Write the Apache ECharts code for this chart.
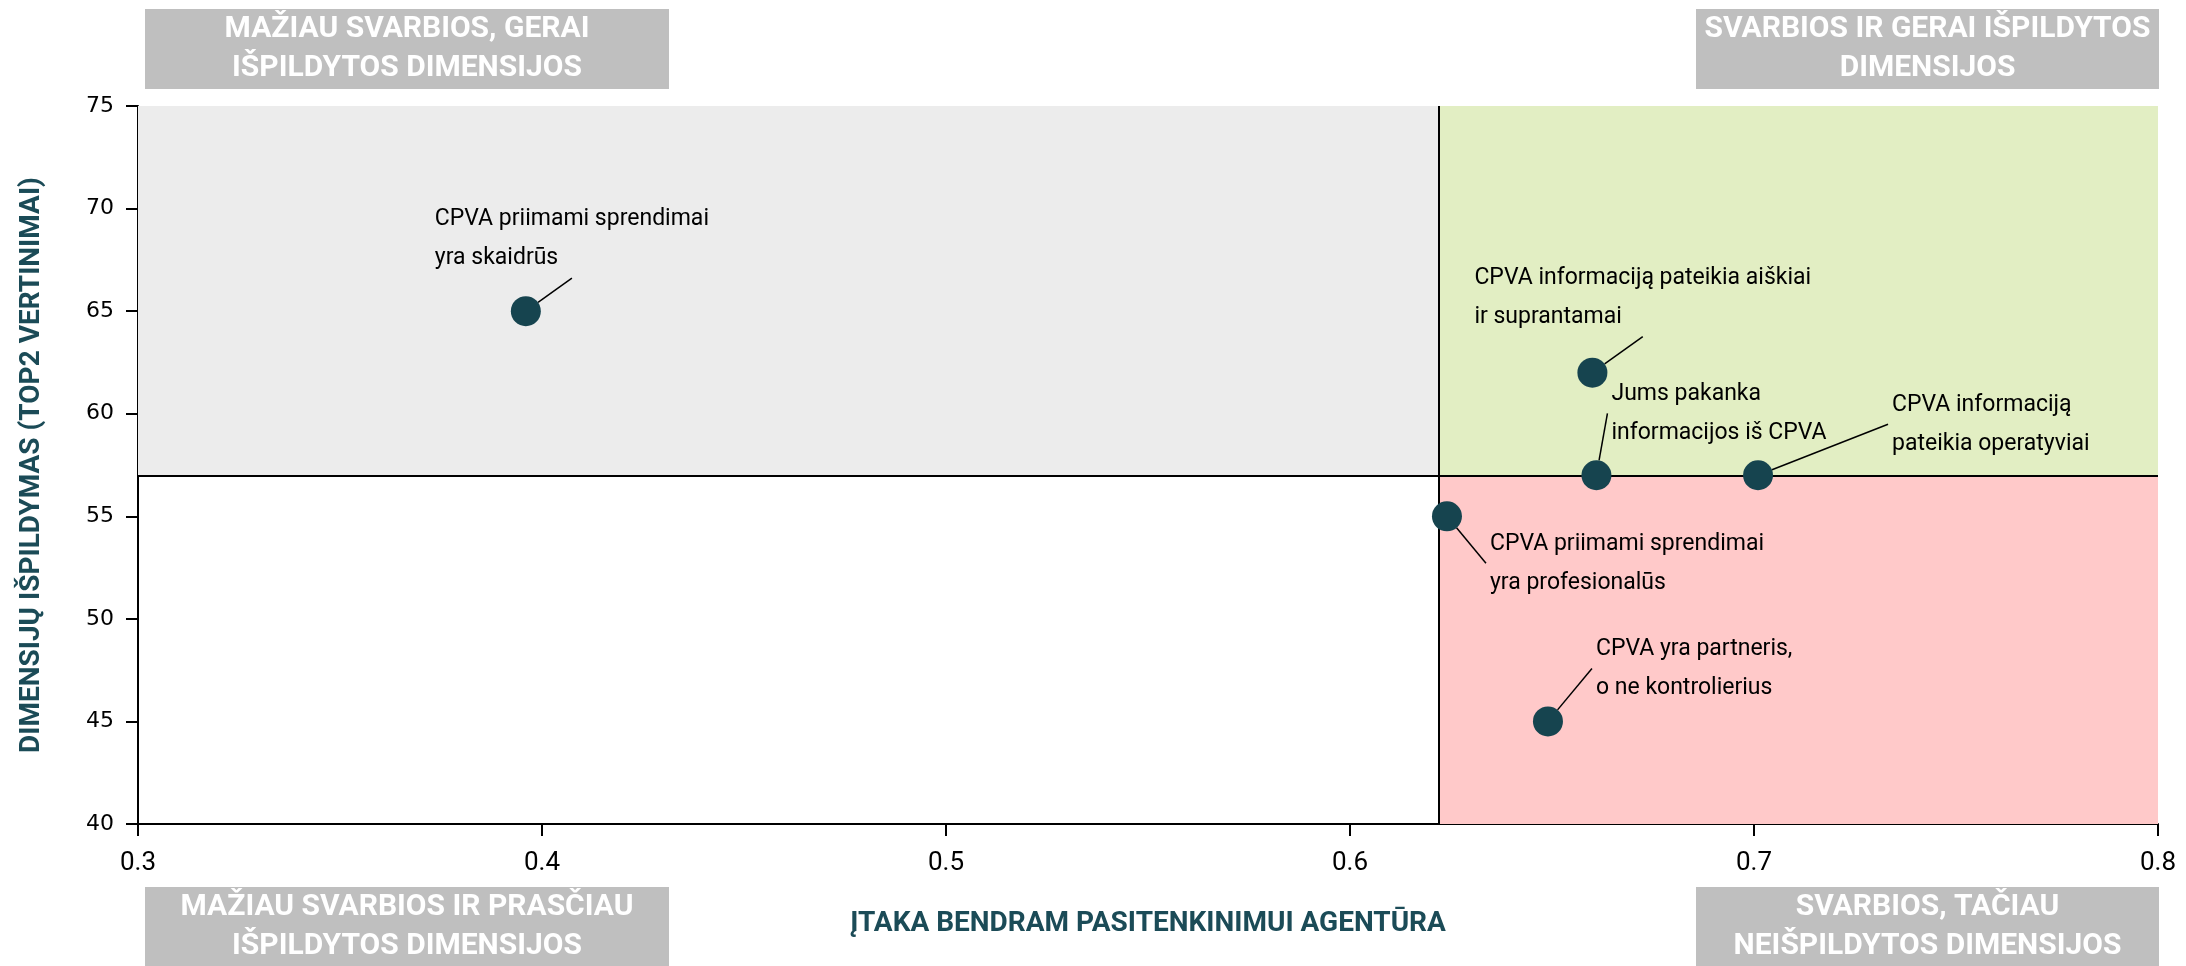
<!DOCTYPE html>
<html lang="lt">
<head>
<meta charset="utf-8">
<title>Dimensijų svarba ir išpildymas</title>
<script src="https://cdn.jsdelivr.net/npm/echarts@6/dist/echarts.min.js"></script>
<style>
  html, body { margin: 0; padding: 0; background: #ffffff; }
  #chart { width: 2186px; height: 966px; }
</style>
</head>
<body>
<div id="chart"></div>
<script>
// duomenys
const names = [
  'CPVA priimami sprendimai\nyra skaidrūs',
  'CPVA informaciją pateikia aiškiai\nir suprantamai',
  'Jums pakanka\ninformacijos iš CPVA',
  'CPVA informaciją\npateikia operatyviai',
  'CPVA priimami sprendimai\nyra profesionalūs',
  'CPVA yra partneris,\no ne kontrolierius'
]
const impact = [0.396, 0.66, 0.661, 0.701, 0.624, 0.649]
const performance = [65, 62, 57, 57, 55, 45]

const xMin = 0.3
const xMax = 0.8
const xStep = 0.1
const yMin = 40
const yMax = 75
const yStep = 5

// kvadrantų ribos
const splitX = 0.622
const splitY = 57

const quadrantTitles = [
  'MAŽIAU SVARBIOS, GERAI\nIŠPILDYTOS DIMENSIJOS',
  'SVARBIOS IR GERAI IŠPILDYTOS\nDIMENSIJOS',
  'MAŽIAU SVARBIOS IR PRASČIAU\nIŠPILDYTOS DIMENSIJOS',
  'SVARBIOS, TAČIAU\nNEIŠPILDYTOS DIMENSIJOS'
]
const xName = 'ĮTAKA BENDRAM PASITENKINIMUI AGENTŪRA'
const yName = 'DIMENSIJŲ IŠPILDYMAS (TOP2 VERTINIMAI)'

// etikečių poslinkiai nuo taško (px)
const labelShift = [
  [-110, -72],
  [-137, -75],
  [-4, -62],
  [115, -51],
  [24, 47],
  [29, -53]
]

const teal = '#1b4b57'
const dotColor = '#16444f'

const chart = echarts.init(document.getElementById('chart'))

const points = impact.map((v, i) => ({
  name: names[i],
  value: [v, performance[i]]
}))

const boxStyle = { fill: '#bfbfbf' }
const boxText = {
  fill: '#ffffff',
  font: 'bold 30px Roboto',
  lineHeight: 39,
  align: 'center',
  verticalAlign: 'middle'
}

const makeBox = (x, y, w, h, text) => ({
  type: 'group',
  left: x,
  top: y,
  children: [
    { type: 'rect', shape: { x: 0, y: 0, width: w, height: h }, style: boxStyle },
    {
      type: 'text',
      x: w / 2,
      y: 40,
      style: Object.assign({ text: text }, boxText)
    }
  ]
})

chart.setOption({
  animation: false,
  textStyle: { fontFamily: 'Roboto' },
  grid: {
    left: 138,
    right: 28,
    top: 106,
    bottom: 142
  },
  xAxis: {
    type: 'value',
    min: xMin,
    max: xMax,
    interval: xStep,
    name: xName,
    nameLocation: 'middle',
    nameGap: 86,
    nameTextStyle: {
      color: teal,
      fontWeight: 'bold',
      fontSize: 28,
      fontFamily: 'Roboto'
    },
    splitLine: { show: false },
    axisLine: { show: true, lineStyle: { color: '#000000', width: 2 } },
    axisTick: { show: true, length: 12, lineStyle: { color: '#000000', width: 2 } },
    axisLabel: {
      color: '#000000',
      fontSize: 26,
      fontFamily: 'Roboto',
      margin: 26,
      formatter: (v) => v.toFixed(1)
    }
  },
  yAxis: {
    type: 'value',
    min: yMin,
    max: yMax,
    interval: yStep,
    name: yName,
    nameLocation: 'middle',
    nameGap: 92,
    nameTextStyle: {
      color: teal,
      fontWeight: 'bold',
      fontSize: 28,
      fontFamily: 'Roboto'
    },
    splitLine: { show: false },
    axisLine: { show: true, lineStyle: { color: '#000000', width: 2 } },
    axisTick: { show: true, length: 12, lineStyle: { color: '#000000', width: 2 } },
    axisLabel: {
      color: '#000000',
      fontSize: 22,
      fontFamily: 'DejaVu Sans',
      margin: 24
    }
  },
  graphic: [
    makeBox(145, 9, 524, 80, quadrantTitles[0]),
    makeBox(1696, 9, 463, 80, quadrantTitles[1]),
    makeBox(145, 887, 524, 80, quadrantTitles[2]),
    makeBox(1696, 887, 463, 80, quadrantTitles[3])
  ],
  series: [
    {
      // kvadrantų fonas ir skiriamosios linijos
      type: 'scatter',
      data: [],
      z: 1,
      silent: true,
      markArea: {
        silent: true,
        data: [
          [{ coord: [xMin, splitY], itemStyle: { color: '#ececec' } }, { coord: [splitX, yMax] }],
          [{ coord: [splitX, splitY], itemStyle: { color: '#e2eec3' } }, { coord: [xMax, yMax] }],
          [{ coord: [splitX, yMin], itemStyle: { color: '#ffc9c9' } }, { coord: [xMax, splitY] }]
        ]
      },
      markLine: {
        silent: true,
        symbol: 'none',
        label: { show: false },
        lineStyle: { color: '#000000', width: 2, type: 'solid' },
        data: [
          [{ coord: [splitX, yMin] }, { coord: [splitX, yMax] }],
          [{ coord: [xMin, splitY] }, { coord: [xMax, splitY] }]
        ]
      }
    },
    {
      type: 'scatter',
      z: 5,
      symbolSize: 30,
      itemStyle: { color: dotColor, opacity: 1 },
      data: points,
      label: {
        show: true,
        position: 'right',
        distance: 0,
        formatter: (p) => p.name,
        color: '#000000',
        fontSize: 23,
        fontFamily: 'Roboto',
        lineHeight: 39,
        padding: [0, 4]
      },
      labelLine: {
        show: true,
        lineStyle: { color: '#000000', width: 1.5 }
      },
      labelLayout: (params) => ({
        dx: labelShift[params.dataIndex][0],
        dy: labelShift[params.dataIndex][1]
      })
    }
  ]
})
</script>
</body>
</html>
